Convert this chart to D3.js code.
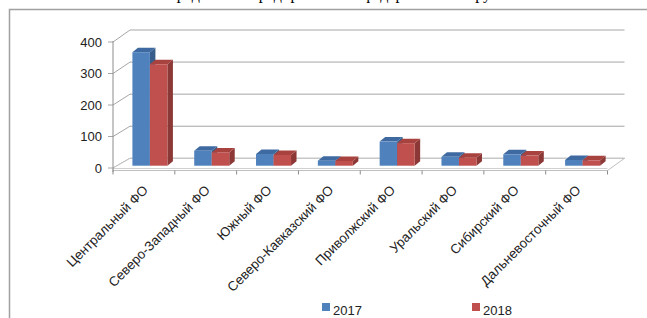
<!DOCTYPE html>
<html>
<head>
<meta charset="utf-8">
<script src="https://cdn.jsdelivr.net/npm/d3@7"></script>
<style>
  body { margin: 0; background: #fff; }
  svg { display: block; }
</style>
</head>
<body>
<svg id="chart" width="647" height="318"></svg>
<script>
// districts and values
var districts = ["Центральный ФО", "Северо-Западный ФО", "Южный ФО", "Северо-Кавказский ФО",
  "Приволжский ФО", "Уральский ФО", "Сибирский ФО", "Дальневосточный ФО"];
var years = ["2017", "2018"];
var v2017 = [358, 47, 37, 16, 76, 28, 36, 18];
var v2018 = [320, 42, 34, 15, 71, 25, 32, 17];
var yTicks = [0, 100, 200, 300, 400];

var colors = {
  "2017": {front: "#4f81bd", top: "#3e6aa1", side: "#385d8a"},
  "2018": {front: "#c0504d", top: "#a8423f", side: "#8c3836"}
};

var svg = d3.select("#chart");

// outer frame (chart area border, continues off-page)
svg.append("path")
  .attr("d", "M9.5,318 L9.5,9.5 L647,9.5")
  .attr("fill", "none").attr("stroke", "#a0a0a0").attr("stroke-width", 1.5);

// title, only its bottom edge shows at the top of the page
svg.append("text")
  .attr("x", 330).attr("y", -1)
  .attr("text-anchor", "middle")
  .attr("font-family", "Liberation Serif, Times New Roman, serif")
  .attr("font-size", 16).attr("fill", "#000")
  .text("Распределение предприятий по федеральным округам");

// scales: floor front, back wall, and bar plane
var x = d3.scaleBand().domain(districts).range([113, 607.5]);
var yFront = d3.scaleLinear().domain([0, 400]).range([168, 42]);
var yBack = d3.scaleLinear().domain([0, 400]).range([158.3, 30]);
var yBar = d3.scaleLinear().domain([0, 400]).range([165.7, 38.9]);
var depthX = 17;
var x0 = 113, x1 = 607.5;

var grid = "#a6a6a6";

// back wall gridlines + left wall diagonals
yTicks.forEach(function(t) {
  svg.append("path")
    .attr("d", "M" + (x0 - 5) + "," + yFront(t) + " L" + x0 + "," + yFront(t) +
      " L" + (x0 + depthX) + "," + yBack(t) + " L" + (x1 + depthX) + "," + yBack(t))
    .attr("fill", "none").attr("stroke", grid).attr("stroke-width", 1);
});

// floor
svg.append("path")
  .attr("d", "M" + x0 + "," + yFront(0) + " L" + (x0 + depthX) + "," + yBack(0) +
    " L" + (x1 + depthX) + "," + yBack(0) + " L" + x1 + "," + (yFront(0) + 2.5) +
    " L" + x0 + "," + (yFront(0) + 2.5) + "Z")
  .attr("fill", "#fff").attr("stroke", "#bfbfbf").attr("stroke-width", 1);
svg.append("line")
  .attr("x1", x0).attr("x2", x1)
  .attr("y1", yFront(0) + 0.5).attr("y2", yFront(0) + 0.5)
  .attr("stroke", "#d0d0d0");

// vertical axis
svg.append("line")
  .attr("x1", x0).attr("x2", x0).attr("y1", yFront(400) - 1).attr("y2", yFront(0) + 4)
  .attr("stroke", "#8c8c8c").attr("stroke-width", 1);

// category ticks
d3.range(districts.length + 1).forEach(function(i) {
  var xx = x0 + i * x.step();
  svg.append("line")
    .attr("x1", xx).attr("x2", xx).attr("y1", yFront(0) + 2.5).attr("y2", yFront(0) + 6.5)
    .attr("stroke", "#8c8c8c");
});

// y labels
svg.append("g").selectAll("text").data(yTicks).enter().append("text")
  .attr("x", 102).attr("y", function(d) { return yFront(d) + 4.5; })
  .attr("text-anchor", "end")
  .attr("font-family", "Liberation Sans, Arial, sans-serif")
  .attr("font-size", 13).attr("fill", "#222")
  .text(function(d) { return d; });

// bars
var inner = d3.scaleBand().domain(years).range([0, 35]);
var bdx = 5.5, bdy = -4.5, shift = 6;
var rows = districts.map(function(d, i) {
  return {name: d, vals: [{year: "2017", v: v2017[i]}, {year: "2018", v: v2018[i]}]};
});

rows.forEach(function(r) {
  var cx = x(r.name) + x.bandwidth() / 2 + shift - 17.5;
  r.vals.forEach(function(b) {
    var left = cx + inner(b.year), w = inner.bandwidth();
    var top = yBar(b.v), base = yBar(0);
    var c = colors[b.year];
    var g = svg.append("g");
    // side
    g.append("path")
      .attr("d", "M" + (left + w) + "," + top + " L" + (left + w + bdx) + "," + (top + bdy) +
        " L" + (left + w + bdx) + "," + (base + bdy) + " L" + (left + w) + "," + base + "Z")
      .attr("fill", c.side);
    // top
    g.append("path")
      .attr("d", "M" + left + "," + top + " L" + (left + bdx) + "," + (top + bdy) +
        " L" + (left + w + bdx) + "," + (top + bdy) + " L" + (left + w) + "," + top + "Z")
      .attr("fill", c.top);
    // front
    g.append("rect")
      .attr("x", left).attr("y", top).attr("width", w).attr("height", base - top)
      .attr("fill", c.front);
  });
});

// category labels
svg.append("g").selectAll("text").data(districts).enter().append("text")
  .attr("transform", function(d) {
    return "translate(" + (x(d) + x.bandwidth() / 2 + 5) + "," + 191 + ") rotate(-45)";
  })
  .attr("text-anchor", "end")
  .attr("font-family", "Liberation Sans, Arial, sans-serif")
  .attr("font-size", 13.3).attr("fill", "#222")
  .text(function(d) { return d; });

// legend
var legendX = [322, 472];
years.forEach(function(y, i) {
  svg.append("rect")
    .attr("x", legendX[i]).attr("y", 303).attr("width", 8).attr("height", 8)
    .attr("fill", colors[y].front);
  svg.append("text")
    .attr("x", legendX[i] + 11).attr("y", 315)
    .attr("font-family", "Liberation Sans, Arial, sans-serif")
    .attr("font-size", 13).attr("fill", "#222")
    .text(y);
});
</script>
</body>
</html>
